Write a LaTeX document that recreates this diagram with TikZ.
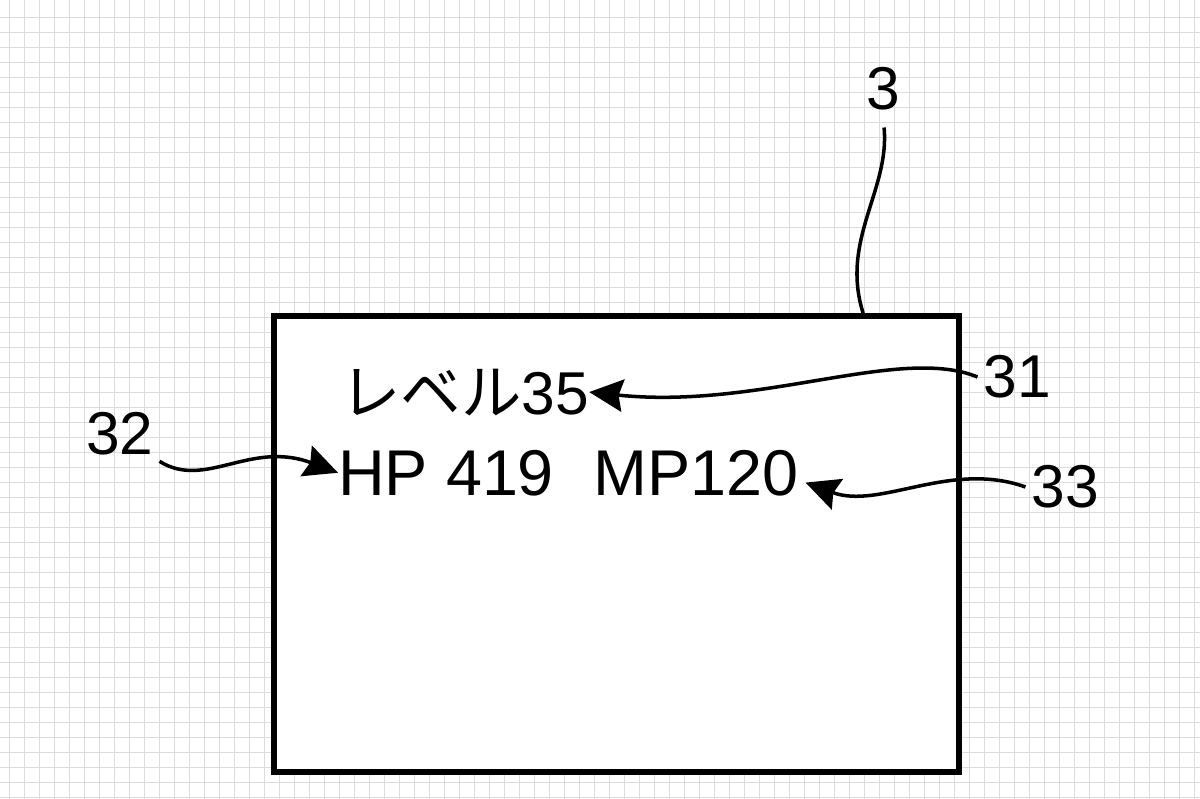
\documentclass[tikz,border=0pt]{standalone}
\usepackage{fontspec}
\setmainfont{Liberation Sans}
\newfontfamily\cjk{Noto Sans CJK JP}
\usetikzlibrary{arrows.meta, calc}

\begin{document}
\begin{tikzpicture}[
        x=0.025cm, y=-0.025cm,
        gridline/.style={black!14, line width=0.7pt},
        panel/.style={draw, fill=white, line width=4pt, minimum width=17.125cm, minimum height=11.4cm, inner sep=0pt},
        refnum/.style={font=\fontsize{43}{50}\selectfont, inner sep=4pt},
        readout/.style={inner sep=0pt, anchor=base west},
        leader/.style={line width=2.5pt},
        pointer/.style={line width=2.5pt, -{Stealth[length=24pt, width=23pt, inset=3pt]}}]

    \useasboundingbox (0,0) rectangle (1200,799);

    % paper grid
    \foreach \gx in {9.3,24.3,...,1200} \draw[gridline] (\gx,0) -- (\gx,799);
    \foreach \gy in {17.3,32.3,...,799} \draw[gridline] (0,\gy) -- (1200,\gy);

    % screen
    \node[panel] (screen) at (616.5,544) {};

    \node[readout, font=\fontsize{43}{50}\selectfont] (level) at (340,414) {{\cjk レベル}35};
    \node[readout, font=\fontsize{46}{54}\selectfont] (hp) at (338,495) {HP 419};
    \node[readout, font=\fontsize{46}{54}\selectfont] (mp) at (593,495) {MP120};

    % reference numerals
    \node[refnum] (l3) at (883,89) {3};
    \node[refnum] (l31) at (1017,377) {31};
    \node[refnum] (l32) at (120,434) {32};
    \node[refnum] (l33) at (1065,487) {33};

    \draw[leader, shorten <=8pt] (l3.south) .. controls (890,190) and (840,240) .. ($(screen.north west)!0.857!(screen.north east)$);
    \draw[pointer] (l31.west) .. controls (900,345) and (760,410) .. (level.east);
    \draw[pointer] (l32.south east) .. controls (205,490) and (250,440) .. (hp.west);
    \draw[pointer] (l33.west) .. controls (950,460) and (880,510) .. ([xshift=5pt, yshift=-7pt]mp.east);
\end{tikzpicture}
\end{document}
